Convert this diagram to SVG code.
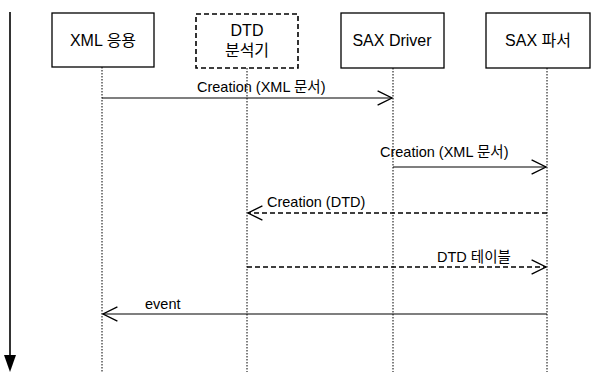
<svg xmlns="http://www.w3.org/2000/svg" width="595" height="374" viewBox="0 0 595 374">
<style>
.box{fill:#fff;stroke:#000;stroke-width:1.3}
.dbox{fill:#fff;stroke:#000;stroke-width:1.6;stroke-dasharray:5 3}
.life{stroke:#000;stroke-width:1;stroke-dasharray:1.5 1.5;fill:none}
.msg{stroke:#000;stroke-width:1.2;fill:none}
.dmsg{stroke:#000;stroke-width:1.4;fill:none;stroke-dasharray:5 3}
.t{font-family:"Liberation Sans","Noto Sans CJK KR",sans-serif;font-size:16px;fill:#000;text-anchor:middle}
.m{font-family:"Liberation Sans","Noto Sans CJK KR",sans-serif;font-size:14.5px;fill:#000}
</style>
<defs>
<marker id="open" viewBox="0 0 20 20" refX="18" refY="10" markerWidth="18" markerHeight="18" markerUnits="userSpaceOnUse" orient="auto">
<path d="M2,2 L18,10 L2,18" fill="none" stroke="#000" stroke-width="1.5"/>
</marker>
</defs>
<g id="time">
<line x1="10" y1="12" x2="10" y2="356" stroke="#000" stroke-width="1.6"/>
<path d="M4,355 L16,355 L10,372 Z" fill="#000"/>
</g>
<g id="connectors">
<line class="life" x1="102" y1="67" x2="102" y2="372"/>
<line class="life" x1="247" y1="68" x2="247" y2="372"/>
<line class="life" x1="393" y1="68" x2="393" y2="372"/>
<line class="life" x1="547" y1="68" x2="547" y2="372"/>
<line class="msg" x1="102" y1="98" x2="392" y2="98" marker-end="url(#open)"/>
<line class="msg" x1="393" y1="167" x2="546" y2="167" marker-end="url(#open)"/>
<line class="dmsg" x1="547" y1="213" x2="248" y2="213" marker-end="url(#open)"/>
<line class="dmsg" x1="247" y1="267" x2="546" y2="267" marker-end="url(#open)"/>
<line class="msg" x1="547" y1="314" x2="103" y2="314" marker-end="url(#open)"/>
<text class="m" x="197" y="92">Creation (XML 문서)</text>
<text class="m" x="380" y="157">Creation (XML 문서)</text>
<text class="m" x="267" y="207">Creation (DTD)</text>
<text class="m" x="437" y="262">DTD 테이블</text>
<text class="m" x="145" y="309">event</text>
</g>
<g id="xml-app">
<rect class="box" x="52" y="13" width="102" height="54"/>
<text class="t" x="103" y="46">XML 응용</text>
</g>
<g id="dtd-analyzer">
<rect class="dbox" x="196" y="14" width="102" height="54"/>
<text class="t" x="247" y="36">DTD</text>
<text class="t" x="247" y="56">분석기</text>
</g>
<g id="sax-driver">
<rect class="box" x="341" y="13" width="103" height="55"/>
<text class="t" x="392" y="46">SAX Driver</text>
</g>
<g id="sax-parser">
<rect class="box" x="486" y="13" width="104" height="55"/>
<text class="t" x="538" y="46">SAX 파서</text>
</g>
</svg>
